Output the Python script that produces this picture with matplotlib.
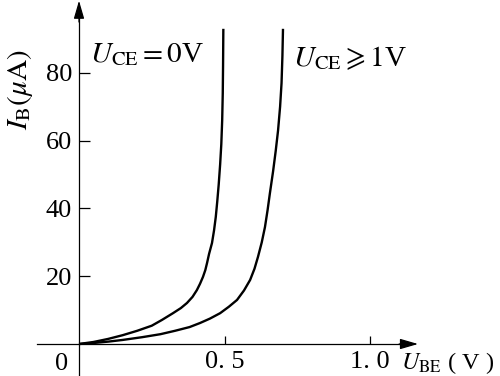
import matplotlib
matplotlib.use("Agg")
import matplotlib.pyplot as plt

plt.rcParams['font.family'] = ['Liberation Serif', 'DejaVu Serif']
plt.rcParams['mathtext.fontset'] = 'stix'

# curves: U_BE (V), I_B (uA)
u_ce0 = [0, 0.05, 0.10, 0.15, 0.20, 0.25, 0.285, 0.323, 0.350, 0.371,
         0.390, 0.405, 0.416, 0.426, 0.434, 0.440, 0.447, 0.457, 0.464,
         0.470, 0.475, 0.480, 0.485, 0.489, 0.492, 0.494, 0.495, 0.496]
i_ce0 = [0, 0.6, 1.5, 2.6, 3.9, 5.4, 7.1, 9.1, 10.6, 12.1,
         13.9, 15.9, 17.8, 19.8, 21.8, 23.9, 26.6, 29.8, 33.5,
         37.5, 42, 47, 53, 59, 66, 74, 82, 93]

u_ce1 = [0, 0.05, 0.10, 0.15, 0.216, 0.28, 0.330, 0.380, 0.416, 0.450,
         0.485, 0.515, 0.543, 0.567, 0.588, 0.603, 0.615, 0.628, 0.639,
         0.648, 0.656, 0.667, 0.676, 0.684, 0.691, 0.696, 0.699, 0.701]
i_ce1 = [0, 0.3, 0.7, 1.2, 2.0, 2.9, 3.9, 5.0, 6.2, 7.5,
         9.1, 11.0, 13.0, 15.8, 18.9, 22.2, 25.7, 30, 34.5,
         39.5, 44.5, 51, 57, 63, 70, 77, 85, 93]

xticks = [0.5, 1.0]
xtick_labels = ['0. 5', '1. 0']
yticks = [20, 40, 60, 80]
ytick_labels = ['20', '40', '60', '80']

fig = plt.figure(figsize=(5, 3.76), dpi=100)
ax = fig.add_axes([0, 0, 1, 1])
ax.set_xlim(-0.2715, 1.4467)
ax.set_ylim(-9.44, 101.5)

ax.plot(u_ce0, i_ce0, color='black', lw=1.7, solid_capstyle='butt')
ax.plot(u_ce1, i_ce1, color='black', lw=1.7, solid_capstyle='butt')

for s in ['top', 'right']:
    ax.spines[s].set_visible(False)
ax.spines['left'].set_position(('data', 0))
ax.spines['bottom'].set_position(('data', 0))
ax.spines['left'].set_bounds(-9.44, 99)
ax.spines['bottom'].set_bounds(-0.144, 1.14)
ax.spines['left'].set_linewidth(0.9)
ax.spines['bottom'].set_linewidth(0.9)

arrow = dict(arrowstyle='-|>,head_length=0.55,head_width=0.16', color='black',
             lw=0.9, mutation_scale=20, shrinkA=0, shrinkB=0)
ax.annotate('', xy=(1.165, 0), xytext=(1.10, 0), arrowprops=arrow)
ax.annotate('', xy=(0, 101.3), xytext=(0, 95), arrowprops=arrow)

ax.set_xticks(xticks, xtick_labels)
ax.set_yticks(yticks, ytick_labels)
ax.tick_params(axis='x', direction='in', length=6, width=0.9, pad=5, labelsize=19)
ax.tick_params(axis='y', direction='in', length=8, width=0.9, pad=5, labelsize=19)

ax.text(-0.06, -6, '0', fontsize=19, ha='center', va='center')
ax.text(1.108, -5.6, r'$U_{\rm BE}$ ( V )', fontsize=17.5, ha='left', va='center')
ax.text(-0.203, 75, r'$I_{\rm B}(\mu{\rm A})$', fontsize=21, ha='center', va='center',
        rotation=90)
ax.text(0.038, 85.3, r'$U_{\rm CE}=0$V', fontsize=21, ha='left', va='center')
ax.text(0.735, 84.4, r'$U_{\rm CE}\geqslant 1$V', fontsize=21, ha='left', va='center')

fig.savefig('out.png', dpi=100)
